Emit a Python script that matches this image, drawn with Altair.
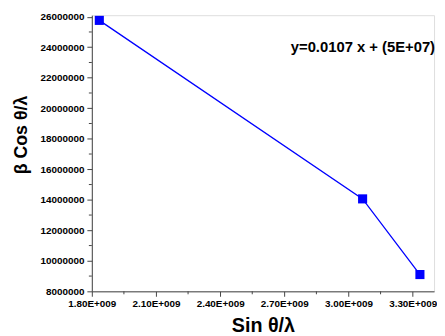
import altair as alt
import pandas as pd

# data
x_vals = [1.835e9, 3.066e9, 3.334e9]
y_vals = [25.76e6, 14.06e6, 9.1e6]

x_major = [1.8e9, 2.1e9, 2.4e9, 2.7e9, 3.0e9, 3.3e9]
x_minor = [1.95e9, 2.25e9, 2.55e9, 2.85e9, 3.15e9]
y_major = [8e6, 10e6, 12e6, 14e6, 16e6, 18e6, 20e6, 22e6, 24e6, 26e6]
y_minor = [9e6, 11e6, 13e6, 15e6, 17e6, 19e6, 21e6, 23e6, 25e6]

fit_text = ["y=0.0107 x + (5E+07)"]
fit_x = [3.4e9]
fit_y = [23.66e6]

df = pd.DataFrame({"x": x_vals, "y": y_vals})
ann = pd.DataFrame({"x": fit_x, "y": fit_y, "t": fit_text})
xm = pd.DataFrame({"x": x_minor})
ym = pd.DataFrame({"y": y_minor})

FONT = "Liberation Sans"
AX = "#444444"
W, H = 347, 280

xscale = alt.Scale(domain=[1.8e9, 3.4e9], nice=False, zero=False)
yscale = alt.Scale(domain=[8e6, 26.1e6], nice=False, zero=False)

xaxis = alt.Axis(
    values=x_major,
    labelExpr="format(datum.value/1e9, '.2f') + 'E+009'",
    tickSize=5, grid=False,
    domainColor=AX, tickColor=AX, tickWidth=1, domainWidth=1,
    labelFont=FONT, labelFontSize=10, labelFontWeight="bold", labelColor="black",
    labelPadding=2, labelFlush=False, labelOverlap=False,
    title="Sin θ/λ", titleFont=FONT, titleFontSize=20, titleFontWeight="bold",
    titleColor="black", titleBaseline="alphabetic", titleY=41,
)
yaxis = alt.Axis(
    values=y_major,
    labelExpr="format(datum.value, 'd')",
    tickSize=5, grid=False,
    domainColor=AX, tickColor=AX, tickWidth=1, domainWidth=1,
    labelFont=FONT, labelFontSize=10, labelFontWeight="bold", labelColor="black",
    labelPadding=3, labelFlush=False, labelOverlap=False, labelBound=False,
    title="β Cos θ/λ", titleFont=FONT, titleFontSize=18, titleFontWeight="bold",
    titleColor="black", titleBaseline="alphabetic", titleX=-66, titleY=121, titleAngle=-90,
)

base = alt.Chart(df).encode(
    x=alt.X("x:Q", scale=xscale, axis=xaxis),
    y=alt.Y("y:Q", scale=yscale, axis=yaxis),
)
line = base.mark_line(color="#0000FF", strokeWidth=1.3)
pts = base.mark_square(color="#0000FF", size=85, opacity=1)

xminor = alt.Chart(xm).mark_rule(color=AX, strokeWidth=1).encode(
    x=alt.X("x:Q", scale=xscale, axis=xaxis),
    y=alt.value(H), y2=alt.value(H + 3),
)
yminor = alt.Chart(ym).mark_rule(color=AX, strokeWidth=1).encode(
    y=alt.Y("y:Q", scale=yscale, axis=yaxis),
    x=alt.value(0), x2=alt.value(-3),
)

text = alt.Chart(ann).mark_text(
    align="right", baseline="alphabetic", font=FONT, fontSize=15,
    fontWeight="bold", color="black", dx=1,
).encode(
    x=alt.X("x:Q", scale=xscale, axis=xaxis),
    y=alt.Y("y:Q", scale=yscale, axis=yaxis),
    text="t:N",
)

chart = (line + pts + xminor + yminor + text).properties(
    width=W, height=H,
    autosize=alt.AutoSizeParams(type="none"),
    padding={"left": 85, "top": 5, "right": 3, "bottom": 43},
).configure_view(stroke=AX, strokeWidth=1.2).configure_axis(
    labelOverlap=False
).configure(background="white")

chart.save("out.html", embed_options={"renderer": "svg", "actions": False})
